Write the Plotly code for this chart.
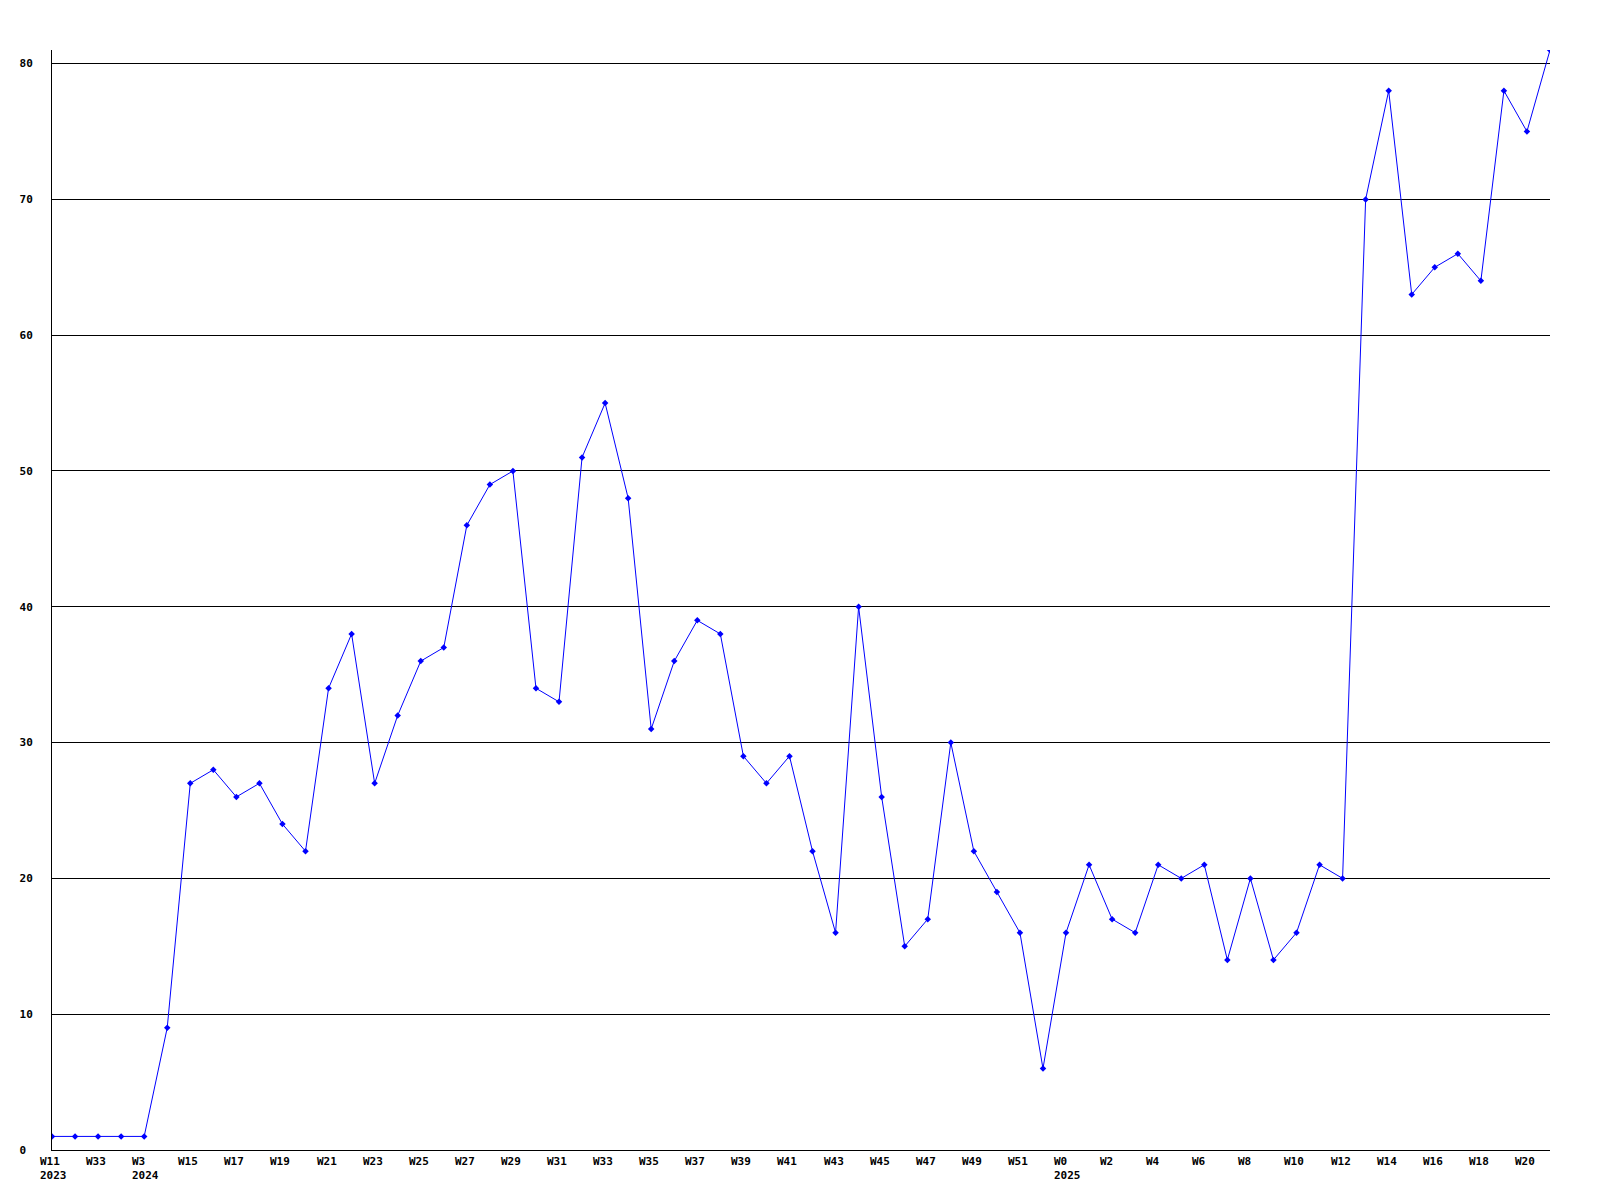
import plotly.graph_objects as go

values = [1, 1, 1, 1, 1, 9, 27, 28, 26, 27, 24, 22, 34, 38, 27, 32, 36, 37, 46, 49,
          50, 34, 33, 51, 55, 48, 31, 36, 39, 38, 29, 27, 29, 22, 16, 40, 26, 15, 17, 30,
          22, 19, 16, 6, 16, 21, 17, 16, 21, 20, 21, 14, 20, 14, 16, 21, 20, 70, 78, 63,
          65, 66, 64, 78, 75, 81]

week_labels = ["W11", "W33", "W3", "W15", "W17", "W19", "W21", "W23", "W25", "W27",
               "W29", "W31", "W33", "W35", "W37", "W39", "W41", "W43", "W45", "W47",
               "W49", "W51", "W0", "W2", "W4", "W6", "W8", "W10", "W12", "W14",
               "W16", "W18", "W20"]
label_positions = list(range(0, 66, 2))
year_labels = {0: "2023", 4: "2024", 44: "2025"}

y_ticks = [0, 10, 20, 30, 40, 50, 60, 70, 80]
y_ticktext = ["0\u00a0", "10", "20", "30", "40", "50", "60", "70", "80"]

x = list(range(len(values)))
FONT = "DejaVu Sans Mono"

fig = go.Figure()
fig.add_trace(go.Scatter(
    x=x, y=values, mode="lines+markers",
    line=dict(color="#0000ff", width=1),
    marker=dict(symbol="diamond", size=5, color="#0000ff"),
    hoverinfo="skip",
))

annotations = []
for pos, lab in zip(label_positions, week_labels):
    text = "<b>" + lab + "</b>"
    if pos in year_labels:
        text += "<br><b>" + year_labels[pos] + "</b>"
    annotations.append(dict(
        x=pos, y=0, xref="x", yref="paper", text=text, showarrow=False,
        xanchor="left", yanchor="top", align="left", xshift=-14, yshift=-3,
        font=dict(family=FONT, size=11, color="black"),
    ))

fig.update_layout(
    width=1600, height=1200,
    margin=dict(l=42, r=58, t=42, b=58),
    paper_bgcolor="white", plot_bgcolor="white",
    showlegend=False,
    annotations=annotations,
    xaxis=dict(range=[0, 65], showgrid=False, zeroline=False, showline=True,
               linecolor="black", linewidth=1, showticklabels=False, ticks=""),
    yaxis=dict(range=[0, 81], tickvals=y_ticks, ticktext=["<b>" + t + "</b>" for t in y_ticktext],
               showgrid=True, gridcolor="black", gridwidth=1, zeroline=False,
               showline=True, linecolor="black", linewidth=1, ticks="",
               ticklabelstandoff=16,
               tickfont=dict(family=FONT, size=11, color="black")),
)

fig.write_html("out.html")
